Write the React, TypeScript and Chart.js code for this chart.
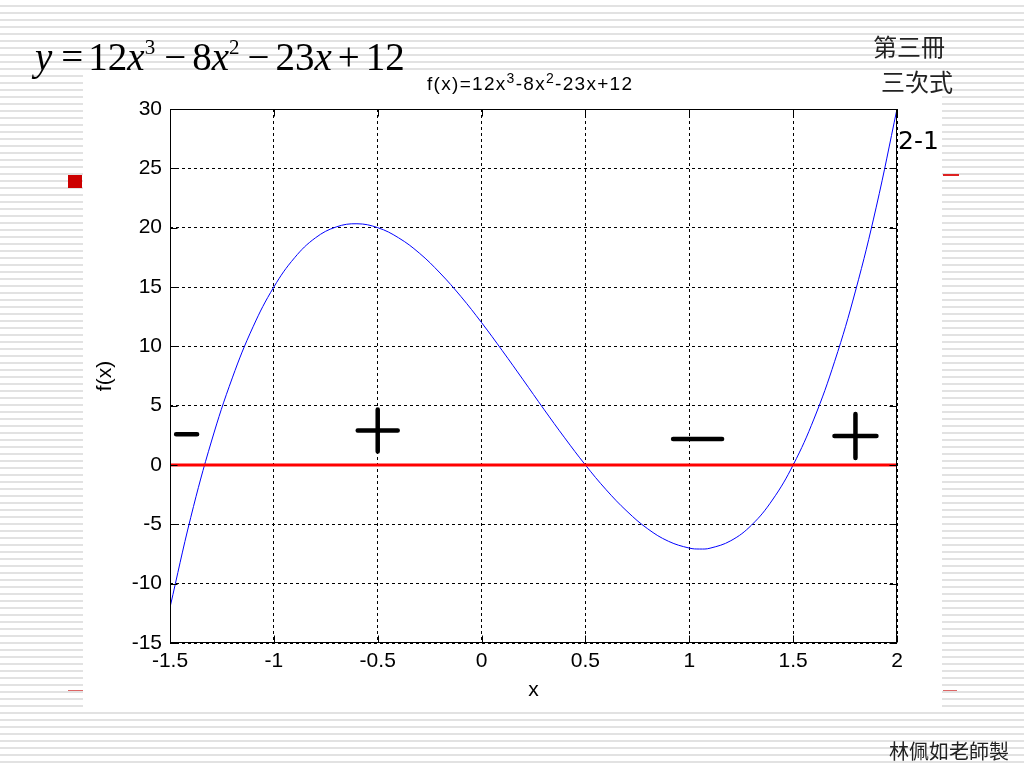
import React, { useEffect, useRef } from "react";
import { Chart, registerables } from "chart.js";

Chart.register(...registerables);

// ---- data ----
const xValues = [
  -1.5, -1.4, -1.3, -1.2, -1.1, -1.0, -0.9, -0.8, -0.7, -0.6, -0.5, -0.4,
  -0.3, -0.2, -0.1, 0.0, 0.1, 0.2, 0.3, 0.4, 0.5, 0.6, 0.7, 0.8, 0.9, 1.0,
  1.05, 1.1, 1.2, 1.3, 1.4, 1.5, 1.6, 1.7, 1.8, 1.9, 2.0,
];
const fValues = [
  -12.0, -4.41, 2.02, 7.34, 11.65, 15.0, 17.47, 19.14, 20.06, 20.33, 20.0,
  19.15, 17.86, 16.18, 14.21, 12.0, 9.63, 7.18, 4.7, 2.29, 0.0, -2.09, -3.9,
  -5.38, -6.43, -7.0, -7.08, -7.01, -6.38, -5.06, -2.95, 0.0, 3.87, 8.74,
  14.66, 21.73, 30.0,
];
const zeroLineX = [-1.5, 2];
const zeroLineY = [0, 0];
const xTickValues = [-1.5, -1, -0.5, 0, 0.5, 1, 1.5, 2];
const yTickValues = [-15, -10, -5, 0, 5, 10, 15, 20, 25, 30];
const xTitle = "x";
const yTitle = "f(x)";
// sign annotations (data coords)
const signKinds = ["minus", "plus", "minus", "plus"];
const signX = [-1.42, -0.5, 1.04, 1.8];
const signY = [2.6, 2.9, 2.2, 2.45];
const signW = [21, 40, 49, 42];
const signH = [0, 42, 0, 44];

const framePlugin = {
  id: "frameAndSigns",
  afterDatasetsDraw(chart: any) {
    const { ctx, chartArea: a, scales } = chart;
    ctx.save();
    ctx.strokeStyle = "#000";
    ctx.lineWidth = 1;
    ctx.setLineDash([]);
    const L = Math.round(a.left) + 0.5;
    const R = Math.round(a.right) - 0.5;
    const T = Math.round(a.top) + 0.5;
    const B = Math.round(a.bottom) - 0.5;
    ctx.strokeRect(L, T, R - L, B - T);
    // inward tick marks on all four sides
    ctx.beginPath();
    const tl = 7;
    for (const v of xTickValues) {
      const px = Math.round(scales.x.getPixelForValue(v)) + 0.5;
      ctx.moveTo(px, B);
      ctx.lineTo(px, B - tl);
      ctx.moveTo(px, T);
      ctx.lineTo(px, T + tl);
    }
    for (const v of yTickValues) {
      const py = Math.round(scales.y.getPixelForValue(v)) + 0.5;
      ctx.moveTo(L, py);
      ctx.lineTo(L + tl, py);
      ctx.moveTo(R, py);
      ctx.lineTo(R - tl, py);
    }
    ctx.stroke();
    // big +/- signs
    ctx.lineWidth = 4.5;
    ctx.lineCap = "round";
    ctx.beginPath();
    for (let i = 0; i < signKinds.length; i++) {
      const px = scales.x.getPixelForValue(signX[i]);
      const py = scales.y.getPixelForValue(signY[i]);
      ctx.moveTo(px - signW[i] / 2, py);
      ctx.lineTo(px + signW[i] / 2, py);
      if (signKinds[i] === "plus") {
        ctx.moveTo(px, py - signH[i] / 2);
        ctx.lineTo(px, py + signH[i] / 2);
      }
    }
    ctx.stroke();
    ctx.restore();
  },
};

function ChartCanvas() {
  const ref = useRef<HTMLCanvasElement>(null);
  useEffect(() => {
    if (!ref.current) return;
    const tickFont = { family: '"Liberation Sans", Arial, sans-serif', size: 21 };
    const chart = new Chart(ref.current, {
      type: "line",
      data: {
        datasets: [
          {
            label: "zero",
            data: zeroLineX.map((x, i) => ({ x, y: zeroLineY[i] })),
            borderColor: "#ff0000",
            borderWidth: 3,
            pointRadius: 0,
          },
          {
            label: "f(x)",
            data: xValues.map((x, i) => ({ x, y: fValues[i] })),
            borderColor: "#0000ff",
            borderWidth: 1,
            pointRadius: 0,
            tension: 0.4,
          },
        ],
      },
      options: {
        responsive: false,
        animation: false,
        devicePixelRatio: 1,
        layout: { padding: { left: 93, top: 109, right: 127, bottom: 65 } },
        plugins: { legend: { display: false }, tooltip: { enabled: false }, title: { display: false } },
        scales: {
          x: {
            type: "linear",
            min: -1.5,
            max: 2,
            afterBuildTicks: (s: any) => {
              s.ticks = xTickValues.map((v) => ({ value: v }));
            },
            afterFit: (s: any) => {
              s.height = 60;
            },
            ticks: {
              color: "#000",
              font: tickFont,
              padding: 6,
              maxRotation: 0,
              autoSkip: false,
              callback: (v: any) => String(v),
            },
            grid: { color: "#000", lineWidth: 1, drawTicks: false },
            border: { display: false, dash: [3, 3] },
            title: {
              display: true,
              text: xTitle,
              color: "#000",
              font: tickFont,
              padding: 0,
            },
          },
          y: {
            type: "linear",
            min: -15,
            max: 30,
            afterBuildTicks: (s: any) => {
              s.ticks = yTickValues.map((v) => ({ value: v }));
            },
            afterFit: (s: any) => {
              s.width = 77;
            },
            ticks: {
              color: "#000",
              font: tickFont,
              padding: 8,
              autoSkip: false,
              callback: (v: any) => String(v),
            },
            grid: { color: "#000", lineWidth: 1, drawTicks: false },
            border: { display: false, dash: [3, 3] },
            title: {
              display: true,
              text: yTitle,
              color: "#000",
              font: tickFont,
              padding: 0,
            },
          },
        },
      },
      plugins: [framePlugin],
    } as any);
    return () => chart.destroy();
  }, []);
  return (
    <canvas
      ref={ref}
      width={1024}
      height={768}
      style={{ position: "absolute", left: 0, top: 0, width: 1024, height: 768 }}
    />
  );
}

const abs = (s: React.CSSProperties): React.CSSProperties => ({ position: "absolute", margin: 0, whiteSpace: "nowrap", ...s });
const supStyle: React.CSSProperties = { position: "relative" };
const op = (ml: number, mr: number): React.CSSProperties => ({ marginLeft: ml, marginRight: mr });

export default function App() {
  return (
    <div
      style={{
        position: "absolute",
        left: 0,
        top: 0,
        width: 1024,
        height: 768,
        overflow: "hidden",
        background:
          "repeating-linear-gradient(to bottom, #ffffff 0px, #ffffff 5px, #e2e2e2 5px, #e2e2e2 7px)",
      }}
    >
      {/* white picture panel */}
      <div style={abs({ left: 83, top: 72, width: 859, height: 635, background: "#fff" })} />
      {/* slide bullets / decorations */}
      <div style={abs({ left: 68, top: 175, width: 14, height: 13, background: "#cc0000" })} />
      <div style={abs({ left: 943, top: 174, width: 16, height: 2, background: "#dd2222" })} />
      <div style={abs({ left: 68, top: 690, width: 15, height: 1, background: "#dd6666" })} />
      <div style={abs({ left: 943, top: 690, width: 14, height: 1, background: "#dd6666" })} />
      <ChartCanvas />
      {/* equation */}
      <div
        style={abs({
          left: 35,
          top: 38,
          fontFamily: '"Liberation Serif", "Times New Roman", serif',
          fontSize: 39,
          lineHeight: "38px",
          color: "#000",
        })}
      >
        <i>y</i>
        <span style={op(9, 5)}>=</span>12<i>x</i>
        <span style={{ ...supStyle, fontSize: 21, top: -16 }}>3</span>
        <span style={op(9, 6)}>−</span>8<i>x</i>
        <span style={{ ...supStyle, fontSize: 21, top: -16 }}>2</span>
        <span style={op(8, 6)}>−</span>23<i>x</i>
        <span style={op(6, 6)}>+</span>12
      </div>
      {/* chart title */}
      <div
        style={abs({
          left: 427,
          top: 74,
          fontFamily: '"Liberation Sans", Arial, sans-serif',
          fontSize: 19,
          letterSpacing: "1.3px",
          lineHeight: "20px",
          color: "#000",
        })}
      >
        f(x)=12x<span style={{ ...supStyle, fontSize: 14, top: -7 }}>3</span>-8x
        <span style={{ ...supStyle, fontSize: 14, top: -7 }}>2</span>-23x+12
      </div>
      <div
        style={abs({
          left: 873,
          top: 31,
          fontFamily: '"Noto Sans CJK TC", sans-serif',
          fontSize: 24,
          lineHeight: "30px",
          color: "#222",
        })}
      >
        第三冊
      </div>
      <div
        style={abs({
          left: 881,
          top: 66,
          fontFamily: '"Noto Sans CJK TC", sans-serif',
          fontSize: 24,
          lineHeight: "30px",
          color: "#222",
        })}
      >
        三次式
      </div>
      <div
        style={abs({
          left: 898,
          top: 126,
          fontFamily: '"DejaVu Sans", sans-serif',
          fontSize: 25,
          lineHeight: "30px",
          color: "#000",
        })}
      >
        2-1
      </div>
      <div
        style={abs({
          left: 889,
          top: 738,
          fontFamily: '"Noto Sans CJK TC", sans-serif',
          fontSize: 20,
          lineHeight: "26px",
          color: "#222",
        })}
      >
        林佩如老師製
      </div>
    </div>
  );
}
